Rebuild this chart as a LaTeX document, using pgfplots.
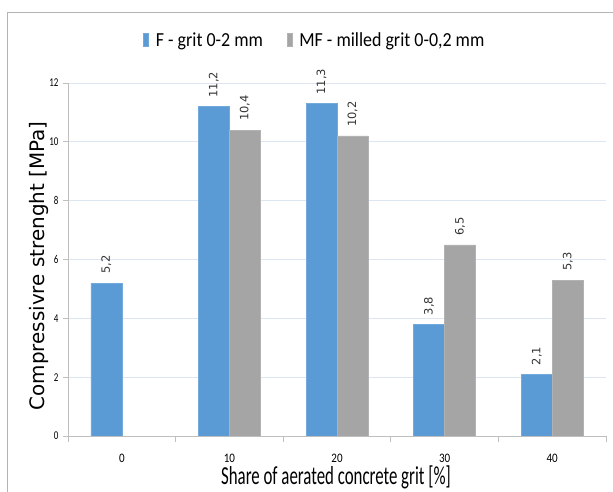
\documentclass[border=0pt]{standalone}
\usepackage{fontspec}
\usepackage{pgfplots}
\pgfplotsset{compat=1.18}
\setmainfont{Carlito}
\newfontfamily\tickfont[FakeStretch=0.75]{Carlito}
\newfontfamily\xtickfont[FakeStretch=0.85]{Carlito}
\newfontfamily\xlabfont[FakeStretch=0.65]{Carlito}
\newfontfamily\legfont[FakeStretch=0.9]{Carlito}
\newfontfamily\verd{DejaVu Sans}

\definecolor{fblue}{HTML}{5B9BD5}
\definecolor{mfgray}{HTML}{A5A5A5}
\definecolor{gridc}{RGB}{220,230,242}
\definecolor{axisc}{RGB}{191,191,191}
\definecolor{framec}{RGB}{180,180,180}

\begin{document}
\begin{tikzpicture}
\useasboundingbox (0,0) rectangle (613bp,492bp);
% outer chart frame
\draw[framec, line width=1bp] (7bp,-5bp) -- (7bp,479bp) -- (625bp,479bp);
\begin{axis}[
  at={(68bp,56bp)}, anchor=south west,
  scale only axis, width=538bp, height=353bp,
  ybar,
  xmin=-0.5, xmax=4.5, ymin=0, ymax=12,
  xtick={0,1,2,3,4},
  xticklabels={0,10,20,30,40},
  minor xtick={-0.5,0.5,1.5,2.5,3.5,4.5},
  ytick={0,2,4,6,8,10,12},
  axis lines*=left,
  axis line style={axisc, line width=0.8bp},
  major x tick style={draw=none},
  minor x tick style={axisc, line width=0.8bp},
  major y tick style={axisc, line width=0.8bp},
  tick align=outside,
  major tick length=5bp,
  minor tick length=6bp,
  ymajorgrids,
  grid style={gridc, line width=0.8bp},
  /pgf/number format/assume math mode=true,
  yticklabel style={font=\tickfont\fontsize{12}{12}\selectfont, xshift=-1bp},
  xticklabel style={font=\xtickfont\fontsize{13}{13}\selectfont, anchor=center, yshift=-17bp},
  ylabel={Compressivre strenght [MPa]},
  ylabel style={font=\verd\fontsize{20}{20}\selectfont, at={(rel axis cs:-0.054,0.482)}, anchor=center},
  xlabel={Share of aerated concrete grit [\%]},
  xlabel style={font=\xlabfont\fontsize{26}{26}\selectfont, at={(rel axis cs:0.498,-0.137)}, anchor=base},
  legend columns=2,
  legend style={draw=none, at={(rel axis cs:0.459,1.122)}, anchor=center,
    font=\legfont\fontsize{20}{20}\selectfont,
    /tikz/every odd column/.append style={column sep=5bp},
    /tikz/every even column/.append style={column sep=22bp}},
  legend image code/.code={\fill[#1] (0bp,-6.5bp) rectangle (5bp,6.5bp);},
  nodes near coords,
  nodes near coords style={font=\verd\fontsize{11.5}{11.5}\selectfont, black!80,
    rotate=90, anchor=west, inner xsep=9bp, inner ysep=0pt,
    /pgf/number format/.cd, fixed, fixed zerofill, precision=1, use comma, assume math mode=true},
]
% F - grit 0-2 mm
\addplot[fill=fblue, draw=fblue!85!white, bar width=31bp, bar shift=-15.5bp]
  coordinates {(0,5.2) (1,11.2) (2,11.3) (3,3.8) (4,2.1)};
% MF - milled grit 0-0,2 mm
\addplot[fill=mfgray, draw=mfgray!85!white, bar width=31bp, bar shift=15.5bp]
  coordinates {(1,10.4) (2,10.2) (3,6.5) (4,5.3)};
\legend{{F - grit 0-2 mm}, {MF - milled grit 0-0,2 mm}}
\end{axis}
\end{tikzpicture}
\end{document}
